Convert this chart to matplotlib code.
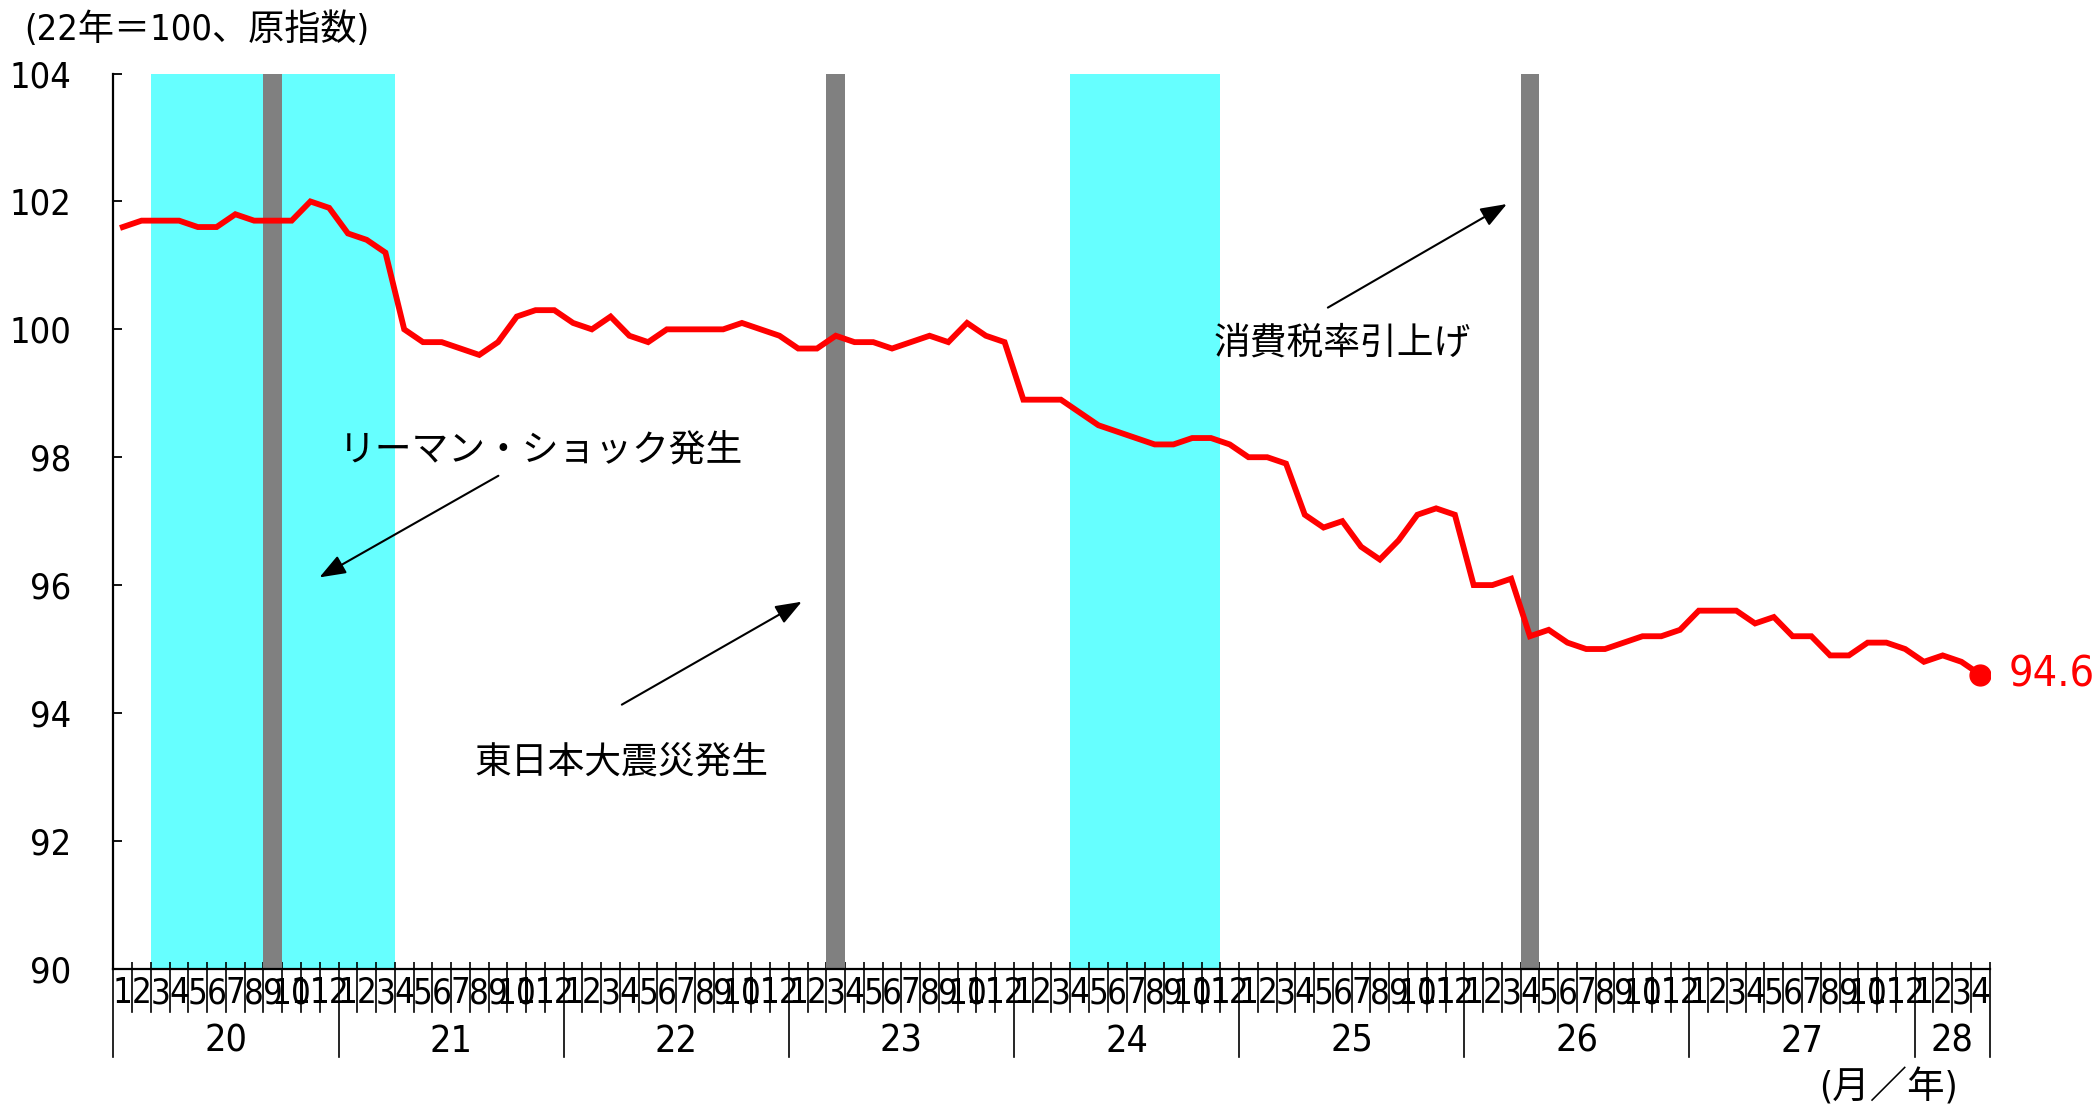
import numpy as np
import matplotlib
matplotlib.use("Agg")
import matplotlib.pyplot as plt
from matplotlib import font_manager as fm
from matplotlib.transforms import blended_transform_factory
from matplotlib.lines import Line2D

# ---------------- data ----------------
years = ["20", "21", "22", "23", "24", "25", "26", "27", "28"]
month_labels = list(range(1, 13)) * 8 + [1, 2, 3, 4]
values = [
    101.6, 101.7, 101.7, 101.7, 101.6, 101.6, 101.8, 101.7, 101.7, 101.7, 102.0, 101.9,   # 20
    101.5, 101.4, 101.2, 100.0, 99.8, 99.8, 99.7, 99.6, 99.8, 100.2, 100.3, 100.3,       # 21
    100.1, 100.0, 100.2, 99.9, 99.8, 100.0, 100.0, 100.0, 100.0, 100.1, 100.0, 99.9,     # 22
    99.7, 99.7, 99.9, 99.8, 99.8, 99.7, 99.8, 99.9, 99.8, 100.1, 99.9, 99.8,             # 23
    98.9, 98.9, 98.9, 98.7, 98.5, 98.4, 98.3, 98.2, 98.2, 98.3, 98.3, 98.2,              # 24
    98.0, 98.0, 97.9, 97.1, 96.9, 97.0, 96.6, 96.4, 96.7, 97.1, 97.2, 97.1,              # 25
    96.0, 96.0, 96.1, 95.2, 95.3, 95.1, 95.0, 95.0, 95.1, 95.2, 95.2, 95.3,              # 26
    95.6, 95.6, 95.6, 95.4, 95.5, 95.2, 95.2, 94.9, 94.9, 95.1, 95.1, 95.0,              # 27
    94.8, 94.9, 94.8, 94.6,                                                              # 28
]
# recession periods (first month index, month index after last)
recession_spans = [(2, 15), (51, 59)]
# single-month events (month index)
event_months = [8, 38, 75]
y_ticks = [90, 92, 94, 96, 98, 100, 102, 104]

title_text = "(22年＝100、原指数)"
unit_text = "(月／年)"

# ---------------- fonts ----------------
ttf = fm.fontManager.ttflist
names = {f.name for f in ttf}
if "Liberation Sans Narrow" in names:
    NUM_FAMILY, NUM_STRETCH = "Liberation Sans Narrow", "normal"
elif any(f.name == "DejaVu Sans" and f.stretch == "condensed" for f in ttf):
    NUM_FAMILY, NUM_STRETCH = "DejaVu Sans", "condensed"
else:
    NUM_FAMILY, NUM_STRETCH = "Liberation Sans", "normal"
plt.rcParams["font.family"] = [NUM_FAMILY, "Noto Sans CJK JP", "DejaVu Sans"]
plt.rcParams["font.stretch"] = NUM_STRETCH
CJK = ["Noto Sans CJK JP", "DejaVu Sans"]

RED = "#FF0000"
CYAN = "#66FFFF"
GRAY = "#808080"

W, H = 2098, 1106
fig = plt.figure(figsize=(W / 100, H / 100), dpi=100)
ax_l, ax_r, ax_t, ax_b = 113.4, 1989.6, 73.6, 968.7
ax = fig.add_axes([ax_l / W, 1 - ax_b / H, (ax_r - ax_l) / W, (ax_b - ax_t) / H])

n = len(values)
x = np.arange(n) + 0.5

for s, e in recession_spans:
    ax.axvspan(s, e, color=CYAN, lw=0, zorder=1)
for m in event_months:
    ax.axvspan(m, m + 1, color=GRAY, lw=0, zorder=2)

ax.plot(x, values, color=RED, lw=4.2, zorder=5, solid_joinstyle="miter")
ax.plot(x[-1], values[-1], "o", color=RED, ms=15, zorder=6)
ax.text(x[-1] + 1.5, values[-1], f"{values[-1]:.1f}", color=RED, fontsize=31,
        va="center", ha="left", clip_on=False)

ax.set_xlim(0, n)
ax.set_ylim(y_ticks[0], y_ticks[-1])
ax.set_yticks(y_ticks)
ax.tick_params(axis="y", direction="in", length=6.5, width=1.3, labelsize=26, pad=30)
ax.set_xticks(np.arange(0, n + 1))
ax.tick_params(axis="x", direction="in", length=5, width=1.2, labelbottom=False)
for sp in ["top", "right"]:
    ax.spines[sp].set_visible(False)
for sp in ["left", "bottom"]:
    ax.spines[sp].set_linewidth(1.6)
    ax.spines[sp].set_zorder(7)

# month / year axis below
trans = blended_transform_factory(ax.transData, ax.transAxes)
ax_h = ax_b - ax_t
month_sep = -(1011.7 - ax_b) / ax_h
year_sep = -(1056.7 - ax_b) / ax_h
for k in range(0, n + 1):
    long_ = (k % 12 == 0) or (k == n)
    ax.add_line(Line2D([k, k], [0, year_sep if long_ else month_sep], transform=trans,
                       color="black", lw=1.2, clip_on=False))
for i, m in enumerate(month_labels):
    ax.text(i + 0.5, -(993 - ax_b) / ax_h, str(m), transform=trans, ha="center",
            va="center", fontsize=25, clip_on=False)
for j, yl in enumerate(years):
    s = 12 * j
    e = min(12 * (j + 1), n)
    ax.text((s + e) / 2, -(1041.7 - ax_b) / ax_h, yl, transform=trans, ha="center",
            va="center", fontsize=27, clip_on=False)

# annotations
arrow_kw = dict(arrowstyle="-|>,head_length=0.8,head_width=0.3", color="black", lw=1.5,
                mutation_scale=20, shrinkA=0, shrinkB=0)
ax.annotate("", xy=(10.98, 96.12), xytext=(20.52, 97.71), arrowprops=arrow_kw, zorder=8)
ax.annotate("", xy=(36.69, 95.74), xytext=(27.10, 94.13), arrowprops=arrow_kw, zorder=8)
ax.annotate("", xy=(74.27, 101.96), xytext=(64.73, 100.34), arrowprops=arrow_kw, zorder=8)
ax.text(22.78, 98.11, "リーマン・ショック発生", fontsize=26.5, family=CJK, ha="center", va="center", zorder=8)
ax.text(27.10, 93.24, "東日本大震災発生", fontsize=26.5, family=CJK, ha="center", va="center", zorder=8)
ax.text(65.52, 99.78, "消費税率引上げ", fontsize=26.5, family=CJK, ha="center", va="center", zorder=8)

fig.text(24 / W, 1 - 28.8 / H, title_text, fontsize=26, ha="left", va="center")
fig.text(1888 / W, 1 - 1088 / H, unit_text, fontsize=27, ha="center", va="center")

fig.savefig("out.png", dpi=100)
